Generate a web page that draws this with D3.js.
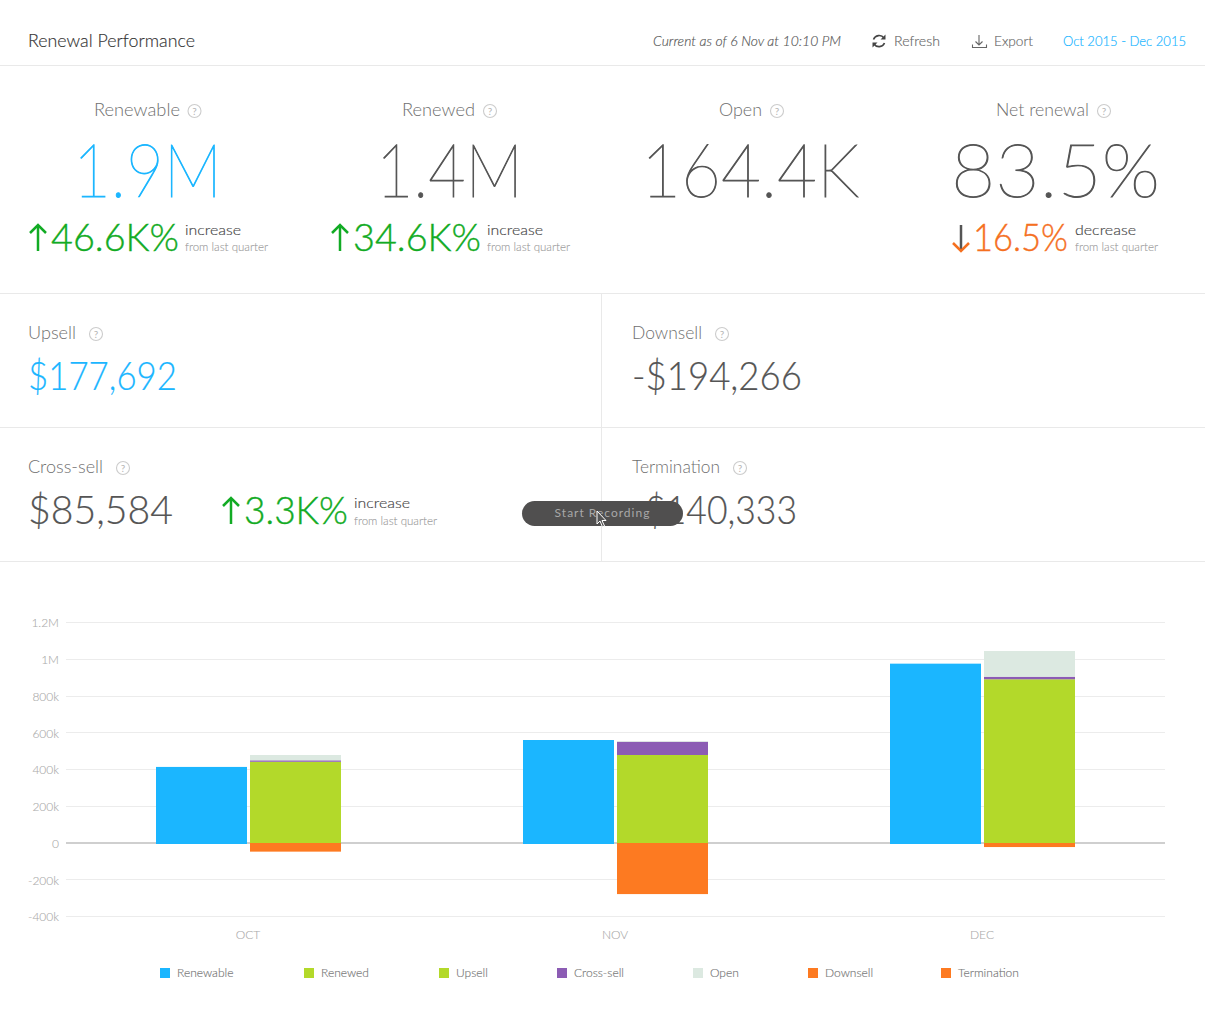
<!DOCTYPE html>
<html><head><meta charset="utf-8">
<script src="https://cdn.jsdelivr.net/npm/d3@7/dist/d3.min.js"></script>
<style>html,body{margin:0;padding:0;background:#fff;overflow:hidden}svg{display:block}text{font-family:Lato,"Open Sans",sans-serif}</style>
</head><body><svg id="c" width="1205" height="1027"></svg>
<script>
const months = ["OCT","NOV","DEC"];
const renewable = [414000,560500,976000];
const renewed = [442000,479000,891000];
const crossSell = [8000,72000,14000];
const openVals = [29000,4000,140000];
const downsell = [-47000,-278000,-22000];
const yTicks = [-400000,-200000,0,200000,400000,600000,800000,1000000,1200000];
const yTickLabels = ["-400k","-200k","0","200k","400k","600k","800k","1M","1.2M"];
const legendNames = ["Renewable","Renewed","Upsell","Cross-sell","Open","Downsell","Termination"];
const legendColors = ["#1bb6ff","#b3d92a","#b3d92a","#8c5cb4","#dce9e1","#fd7a21","#fd7a21"];

const BLUE="#1bb6ff",GREEN="#12ab24",ORANGE="#f5701f",DARK="#555",MID="#777",LIGHT="#aaa",LINE="#e9e9e9";
const svg=d3.select("#c");
function T(s,x,y,size,fill,w,o={}){
  const t=svg.append("text").attr("x",x).attr("y",y).attr("font-size",size).attr("fill",fill).attr("font-weight",o.weight||300).text(s);
  if(w){t.attr("textLength",w).attr("lengthAdjust","spacingAndGlyphs");}
  if(o.italic)t.attr("font-style","italic");
  if(o.anchor)t.attr("text-anchor",o.anchor);
  if(o.ls)t.attr("letter-spacing",o.ls);
  if(o.stroke)t.attr("stroke",fill).attr("stroke-width",o.stroke);
  return t;
}
function L(x1,y1,x2,y2,c,w){svg.append("line").attr("x1",x1).attr("y1",y1).attr("x2",x2).attr("y2",y2).attr("stroke",c).attr("stroke-width",w||1);}
function help(cx,cy){
  svg.append("circle").attr("cx",cx).attr("cy",cy).attr("r",6.5).attr("fill","none").attr("stroke","#ccc").attr("stroke-width",1.1);
  T("?",cx,cy+3.5,10,"#b5b5b5",null,{anchor:"middle",weight:400});
}
function arrow(x,top,bot,up,shaft,head){
  L(x,top,x,bot,shaft,2.5);
  const p=up?`M${x-8},${top+8}L${x},${top}L${x+8},${top+8}`:`M${x-8},${bot-8}L${x},${bot}L${x+8},${bot-8}`;
  svg.append("path").attr("d",p).attr("fill","none").attr("stroke",head).attr("stroke-width",2.5);
}

// dividers
[65.5,293.5,427.5,561.5].forEach(y=>L(0,y,1205,y,LINE));
L(601.5,293,601.5,561,LINE);

// header
T("Renewal Performance",28,47,18,"#333",167,{weight:300,stroke:0.15});
T("Current as of 6 Nov at 10:10 PM",653,46,14,"#555",188,{italic:true,weight:300,stroke:0.15});
T("Refresh",894,46,14,"#666",46,{weight:300,stroke:0.15});
T("Export",994,46,14,"#666",39,{weight:300,stroke:0.15});
T("Oct 2015 - Dec 2015",1063,46,14,BLUE,123,{weight:300,stroke:0.2});
svg.append("path").attr("d","M873.5,39.5A6,6 0 0 1 884,38M884.5,43A6,6 0 0 1 874,44").attr("fill","none").attr("stroke","#444").attr("stroke-width",1.6);
svg.append("path").attr("d","M885.5,34.5V39.5H880.5ZM872.5,47.5V42.5H877.5Z").attr("fill","#444");
svg.append("path").attr("d","M979,35V44.5M975.5,41.5L979,45L982.5,41.5M972.5,44.5V47.5H986.5V44.5").attr("fill","none").attr("stroke","#666").attr("stroke-width",1.1);

// KPI row
const kpiNames=["Renewable","Renewed","Open","Net renewal"];
const kpiValues=["1.9M","1.4M","164.4K","83.5%"];
[[94,86,194.5,73,149,BLUE],[402,73,490,376,147,DARK],[719,43,777,641,218,DARK],[996,93,1104,951,209,DARK]].forEach((p,i)=>{
  T(kpiNames[i],p[0],116,18,"#6f6f6f",p[1]);
  help(p[2],111);
  T(kpiValues[i],p[3],197,75,p[5],p[4],{weight:100,stroke:1});
});
function delta(val,ax,tx,tw,color,y,word,wx,ww,sub,up,y1,y2){
  if(up)arrow(ax,y-26,y,true,color,color); else arrow(ax,y-26,y,false,"#555",ORANGE);
  T(val,tx,y,38,color,tw,{weight:300,stroke:0.4});
  T(word,wx,y1,14.5,"#444",ww,{weight:300,stroke:0.15});
  T(sub,wx,y2,12,"#999",83,{weight:300,stroke:0.1});
}
delta("46.6K%",38,51,128,GREEN,251,"increase",185,56,"from last quarter",true,235,251);
delta("34.6K%",340,353,128,GREEN,251,"increase",487,56,"from last quarter",true,235,251);
delta("16.5%",961,973,95,ORANGE,251,"decrease",1075,61,"from last quarter",false,235,251);

// metric cells
const cellNames=["Upsell","Downsell","Cross-sell","Termination"];
const cellValues=["$177,692","-$194,266","$85,584","-$140,333"];
[[28,339,48,96,28,390,149,BLUE],[632,339,70,722,632,390,170,DARK],[28,473,75,123,28,524,145,DARK],[632,473,88,740,632,524,165,DARK]].forEach((p,i)=>{
  T(cellNames[i],p[0],p[1],18,"#6f6f6f",p[2]);
  help(p[3],p[1]-5);
  T(cellValues[i],p[4],p[5],40,p[7],p[6],{weight:300,stroke:0.2});
});
delta("3.3K%",231,244,104,GREEN,524,"increase",354,56,"from last quarter",true,508,525);

// recording pill + cursor
svg.append("rect").attr("x",522).attr("y",501).attr("width",161).attr("height",25).attr("rx",12.5).attr("fill","#504f4f");
T("Start Recording",602.5,517,12,"#a8a8a8",null,{anchor:"middle",weight:400,ls:"1px"});
svg.append("path").attr("d","M597,511V524L600,521L602.5,527L604.5,526L602,520.5H606Z").attr("fill","#555").attr("stroke","#fff").attr("stroke-width",1);

// chart
const x=d3.scaleBand().domain(months).range([65,1166]);
const sub=d3.scaleBand().domain(["a","b"]).range([0,185]).paddingInner(3/94);
const y=d3.scaleLinear().domain([-400000,1200000]).range([916.5,622.5]);
const gy=svg.append("g").attr("transform","translate(66,0)").call(
  d3.axisLeft(y).offset(0).tickValues(yTicks).tickSize(0).tickPadding(7).tickFormat((d,i)=>yTickLabels[i]));
gy.select(".domain").remove();
gy.selectAll(".tick text").attr("font-size",12).attr("fill",LIGHT).attr("font-family","Lato").attr("font-weight",300).attr("stroke",LIGHT).attr("stroke-width",0.1).attr("y",1);
gy.selectAll(".tick").append("line").attr("x1",0).attr("x2",1099).attr("shape-rendering","crispEdges")
  .attr("stroke",d=>d===0?"#cfcfcf":"#ececec").attr("stroke-width",d=>d===0?2:1);

const off=m=>x(m)+(x.bandwidth()-185)/2;
svg.append("g").selectAll("rect").data(months).join("rect")
  .attr("x",m=>off(m)+sub("a")).attr("width",sub.bandwidth())
  .attr("y",(m,i)=>y(renewable[i])).attr("height",(m,i)=>y(0)-y(renewable[i])+1).attr("fill",legendColors[0]);

const rows=months.map((m,i)=>({m,renewed:renewed[i],cross:crossSell[i],open:openVals[i],down:downsell[i]}));
const keys=["renewed","cross","open","down"],cols=[legendColors[1],legendColors[3],legendColors[4],legendColors[5]];
const st=d3.stack().keys(keys).offset(d3.stackOffsetDiverging)(rows);
svg.append("g").selectAll("g").data(st).join("g").attr("fill",(d,i)=>cols[i])
  .selectAll("rect").data(d=>d).join("rect")
  .attr("x",d=>off(d.data.m)+sub("b")).attr("width",sub.bandwidth())
  .attr("y",d=>y(Math.max(d[0],d[1]))).attr("height",d=>Math.abs(y(d[0])-y(d[1])));

const gx=svg.append("g").attr("transform","translate(-0.5,927)").call(d3.axisBottom(x).tickSize(0).tickPadding(3));
gx.select(".domain").remove();
gx.selectAll("text").attr("font-size",12).attr("fill",LIGHT).attr("font-family","Lato").attr("font-weight",300).attr("stroke",LIGHT).attr("stroke-width",0.1);

// legend
const legendX=d3.scaleOrdinal().domain(legendNames).range([160,304,439,557,693,808,941]);
const lg=svg.append("g").selectAll("g").data(legendNames).join("g").attr("transform",d=>`translate(${legendX(d)},968)`);
lg.append("rect").attr("width",10).attr("height",10).attr("fill",(d,i)=>legendColors[i]);
lg.append("text").attr("x",17).attr("y",9).attr("font-size",12).attr("fill",MID).attr("font-weight",300).attr("stroke",MID).attr("stroke-width",0.15).text(d=>d);
</script></body></html>
